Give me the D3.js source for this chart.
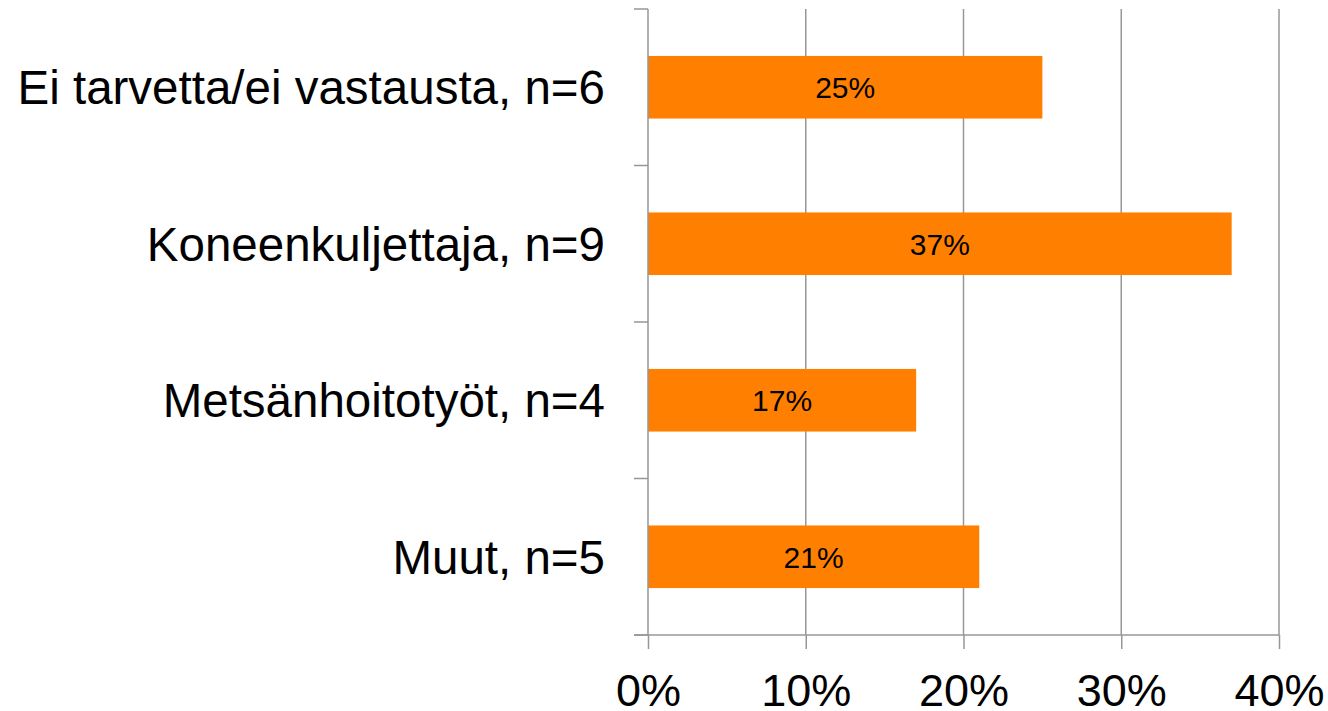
<!DOCTYPE html>
<meta charset="utf-8">
<title>Bar chart</title>
<script src="https://d3js.org/d3.v7.min.js"></script>
<style>
  body { margin: 0; background: #fff; }
  svg { display: block; font-family: "Liberation Sans", Arial, sans-serif; }
</style>
<body>
<svg class="chart"></svg>
<script>

var categories = ["Ei tarvetta/ei vastausta, n=6", "Koneenkuljettaja, n=9", "Metsänhoitotyöt, n=4", "Muut, n=5"];
var values = [25, 37, 17, 21];
var xTicks = [0, 10, 20, 30, 40];

var width = 1328, height = 711;
var plotLeft = 648, plotRight = 1279, plotTop = 9, plotBottom = 635;

var svg = d3.select(".chart")
  .attr("width", width)
  .attr("height", height);

var x = d3.scaleLinear().domain([0, 40]).range([plotLeft, plotRight]);
var y = d3.scaleBand().domain(categories).range([plotTop, plotBottom]).paddingInner(0.6).paddingOuter(0.3);
var yEdges = d3.scaleLinear().domain([0, categories.length]).range([plotTop, plotBottom]);

var grey = "#979797";

// vertical gridlines
svg.selectAll(".grid")
  .data(xTicks.slice(1))
  .enter().append("line")
  .attr("x1", function(d) { return x(d); })
  .attr("x2", function(d) { return x(d); })
  .attr("y1", plotTop)
  .attr("y2", plotBottom)
  .attr("stroke", grey)
  .attr("stroke-width", 1.5);

// bars
svg.selectAll(".bar")
  .data(values)
  .enter().append("rect")
  .attr("x", x(0))
  .attr("y", function(d, i) { return y(categories[i]); })
  .attr("width", function(d) { return x(d) - x(0); })
  .attr("height", y.bandwidth())
  .attr("fill", "#ff8000");

// bar labels
svg.selectAll(".val")
  .data(values)
  .enter().append("text")
  .attr("x", function(d) { return (x(0) + x(d)) / 2; })
  .attr("y", function(d, i) { return y(categories[i]) + y.bandwidth() / 2; })
  .attr("dy", "0.36em")
  .attr("text-anchor", "middle")
  .attr("font-size", 30)
  .attr("fill", "#000")
  .text(function(d) { return d + "%"; });

// x axis
var xAxis = svg.append("g")
  .attr("transform", "translate(0," + plotBottom + ")")
  .call(d3.axisBottom(x).tickValues(xTicks).tickSize(14).tickSizeOuter(0).tickPadding(25)
    .tickFormat(function(d) { return d + "%"; }));
xAxis.select(".domain").attr("d", "M" + (plotLeft - 14) + ",0H" + plotRight);
xAxis.selectAll("line, path").attr("stroke", grey).attr("stroke-width", 1.5);
xAxis.selectAll("text").attr("font-size", 45).attr("fill", "#000").attr("font-family", "Liberation Sans, Arial, sans-serif");

// y axis line and ticks between categories
svg.append("line")
  .attr("x1", plotLeft).attr("x2", plotLeft)
  .attr("y1", plotTop).attr("y2", plotBottom)
  .attr("stroke", grey).attr("stroke-width", 1.5);
svg.selectAll(".ytick")
  .data(d3.range(categories.length + 1))
  .enter().append("line")
  .attr("x1", plotLeft - 14).attr("x2", plotLeft)
  .attr("y1", function(d) { return yEdges(d); })
  .attr("y2", function(d) { return yEdges(d); })
  .attr("stroke", grey).attr("stroke-width", 1.5);

// category labels
svg.selectAll(".cat")
  .data(categories)
  .enter().append("text")
  .attr("x", 605)
  .attr("y", function(d) { return y(d) + y.bandwidth() / 2; })
  .attr("dy", "0.36em")
  .attr("text-anchor", "end")
  .attr("font-size", 47.5)
  .attr("fill", "#000")
  .text(function(d) { return d; });

</script>
</body>
